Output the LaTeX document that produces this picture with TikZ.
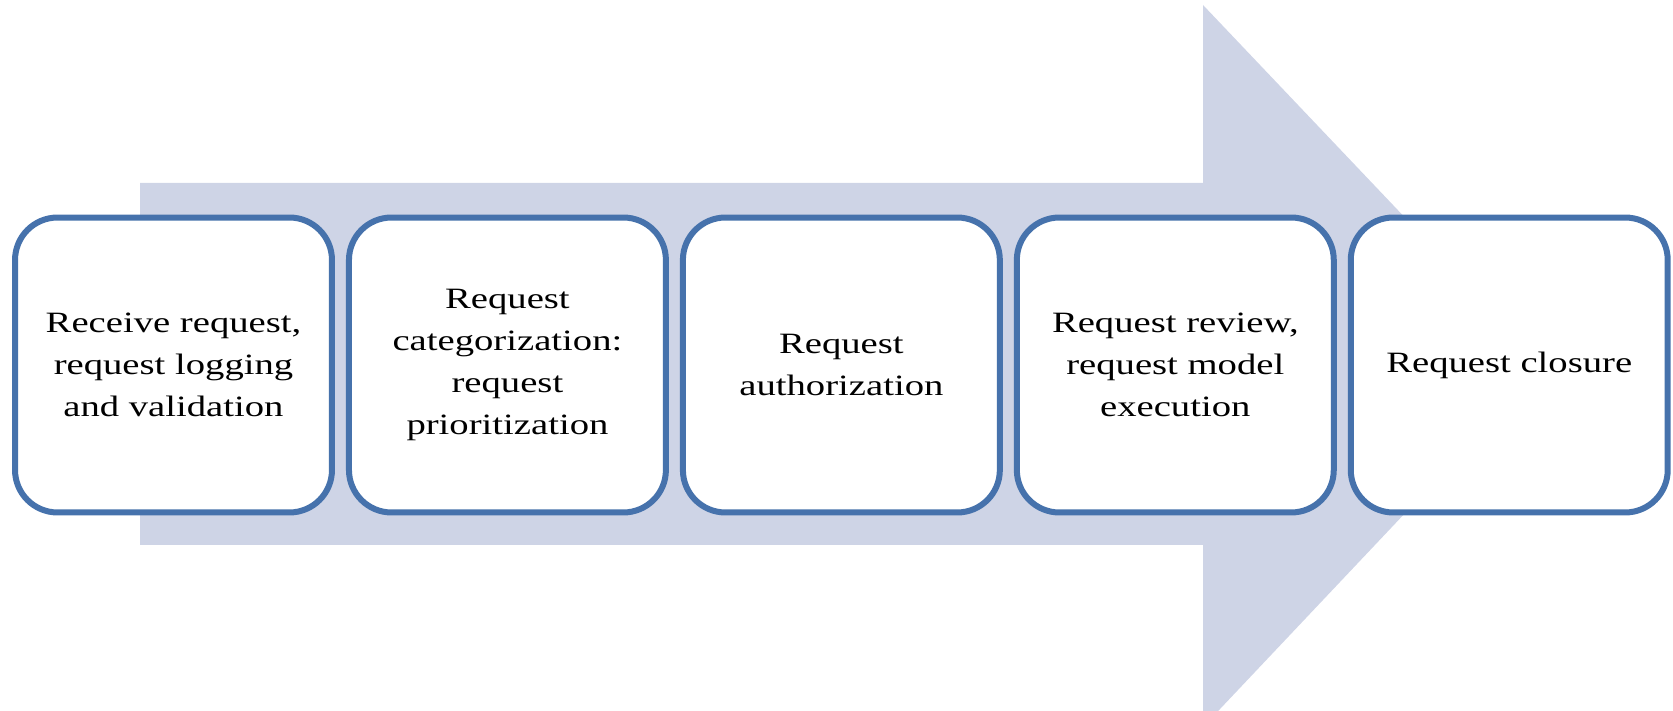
\documentclass[tikz,border=0pt]{standalone}
\usepackage{fontspec}
\setmainfont{Liberation Serif}[FakeStretch=1.31]
\usetikzlibrary{positioning}
\definecolor{arrowfill}{RGB}{206,212,230}
\definecolor{boxline}{RGB}{70,114,172}

\begin{document}
\begin{tikzpicture}[x=0.02cm,y=0.02cm,node distance=0.22cm,
    stepbox/.style={rectangle,draw=boxline,fill=white,line width=0.12cm,
      rounded corners=0.85cm,minimum width=6.34cm,minimum height=5.9cm,
      align=center,font=\fontsize{16.8}{24}\selectfont}]
    \useasboundingbox (0,0) rectangle (1673,710);
    % arrow in the back
    \fill[arrowfill] (140,165) -- (140,527) -- (1203,527) -- (1203,705)
      -- (1545,345) -- (1203,-17) -- (1203,165) -- cycle;
    \node[stepbox] (s1) at (173.5,345) {Receive request,\\request logging\\and validation}; %S1
    \node[stepbox,right=of s1] (s2) {Request\\categorization:\\request\\prioritization};
    \node[stepbox,right=of s2] (s3) {Request\\authorization};
    \node[stepbox,right=of s3] (s4) {Request review,\\request model\\execution};
    \node[stepbox,right=of s4] (s5) {Request closure}; %S5
\end{tikzpicture}
\end{document}
